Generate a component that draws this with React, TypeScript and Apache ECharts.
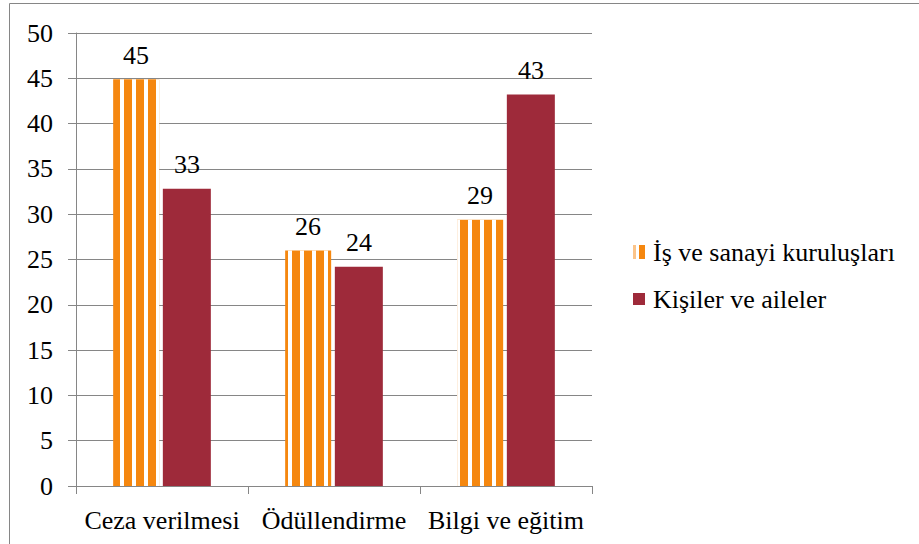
import React, { useEffect, useRef } from "react";
import * as echarts from "echarts";

const categories = ["Ceza verilmesi", "Ödüllendirme", "Bilgi ve eğitim"];
const seriesNames = ["İş ve sanayi kuruluşları", "Kişiler ve aileler"];
const isSanayi = [44.9, 26.0, 29.4];
const kisiler = [32.8, 24.2, 43.2];
const yTickValues = [0, 5, 10, 15, 20, 25, 30, 35, 40, 45, 50];

const FONT = "Liberation Serif";
const GRAY = "#868686";
const ORANGE = "#F5870F";
const RED = "#9E2A3A";
const BAR_W = [46, 48];
const BAR_GAP = 4;

const txt = (text: string, x: number, y: number, align: string, size = 26) => ({
  type: "text",
  x,
  y,
  silent: true,
  style: {
    text,
    x: 0,
    y: 0,
    fontFamily: FONT,
    fontSize: size,
    fill: "#000",
    align,
    verticalAlign: "middle",
    textAlign: align,
    textVerticalAlign: "middle",
  },
});

export default function App() {
  const ref = useRef<HTMLDivElement>(null);
  useEffect(() => {
    if (!ref.current) return;
    const chart = echarts.init(ref.current, null, { renderer: "svg" });
    chart.setOption({
      animation: false,
      backgroundColor: "#fff",
      grid: { left: 76, top: 33, width: 516, height: 453, containLabel: false },
      legend: { show: false },
      xAxis: {
        type: "category",
        data: categories,
        axisLine: { show: true, lineStyle: { color: GRAY, width: 1 } },
        axisTick: { show: true, length: 8, lineStyle: { color: GRAY } },
        axisLabel: { show: false },
      },
      yAxis: {
        type: "value",
        min: 0,
        max: 50,
        interval: 5,
        axisLine: { show: true, lineStyle: { color: GRAY, width: 1 } },
        axisTick: { show: true, length: 8, lineStyle: { color: GRAY } },
        splitLine: { show: true, lineStyle: { color: GRAY, width: 1 } },
        axisLabel: { show: false },
      },
      series: [
        {
          name: seriesNames[0],
          type: "bar",
          data: isSanayi,
          barWidth: BAR_W[0],
          barGap: "8%",
          itemStyle: {
            color: ORANGE,
            decal: {
              symbol: "rect",
              symbolSize: 1,
              color: "#ffffff",
              dashArrayX: [3.5, 7.2],
              dashArrayY: [20, 0],
              rotation: 0,
            },
          },
          label: { show: false },
        },
        {
          name: seriesNames[1],
          type: "bar",
          data: kisiler,
          barWidth: BAR_W[1],
          itemStyle: { color: RED },
          label: { show: false },
        },
      ],
    });

    const gridLeft = 76;
    const xLabelY = 520;
    const groupW = BAR_W[0] + BAR_GAP + BAR_W[1];
    const elements: any[] = [
      {
        type: "rect",
        shape: { x: 9.5, y: 3.5, width: 940, height: 600 },
        style: { fill: "none", stroke: GRAY, lineWidth: 1 },
        silent: true,
      },
    ];
    yTickValues.forEach((v) => {
      const y = chart.convertToPixel({ yAxisIndex: 0 } as any, v) as number;
      elements.push(txt(String(v), gridLeft - 23, y, "right"));
    });
    categories.forEach((c, i) => {
      const cx = chart.convertToPixel({ xAxisIndex: 0 } as any, i) as number;
      elements.push(txt(c, cx, xLabelY, "center"));
      const ox = cx - groupW / 2 + BAR_W[0] / 2;
      const rx = cx - groupW / 2 + BAR_W[0] + BAR_GAP + BAR_W[1] / 2;
      const oy = chart.convertToPixel({ yAxisIndex: 0 } as any, isSanayi[i]) as number;
      const ry = chart.convertToPixel({ yAxisIndex: 0 } as any, kisiler[i]) as number;
      elements.push(txt(String(Math.round(isSanayi[i])), ox, oy - 24, "center"));
      elements.push(txt(String(Math.round(kisiler[i])), rx, ry - 24, "center"));
    });
    // legend
    const legendX = 633;
    const legendY = [252, 299];
    elements.push({
      type: "rect",
      silent: true,
      shape: { x: legendX, y: legendY[0] - 7, width: 3, height: 14 },
      style: { fill: "#FBC48A" },
    });
    elements.push({
      type: "rect",
      silent: true,
      shape: { x: legendX + 6, y: legendY[0] - 7, width: 6, height: 14 },
      style: { fill: ORANGE },
    });
    elements.push({
      type: "rect",
      silent: true,
      shape: { x: legendX, y: legendY[1] - 6, width: 12, height: 12 },
      style: { fill: RED },
    });
    seriesNames.forEach((n, i) => {
      elements.push(txt(n, legendX + 20, legendY[i], "left"));
    });
    chart.setOption({ graphic: elements });
    return () => chart.dispose();
  }, []);
  return (
    <div
      ref={ref}
      style={{ position: "fixed", left: 0, top: 0, width: 919, height: 544 }}
    />
  );
}
